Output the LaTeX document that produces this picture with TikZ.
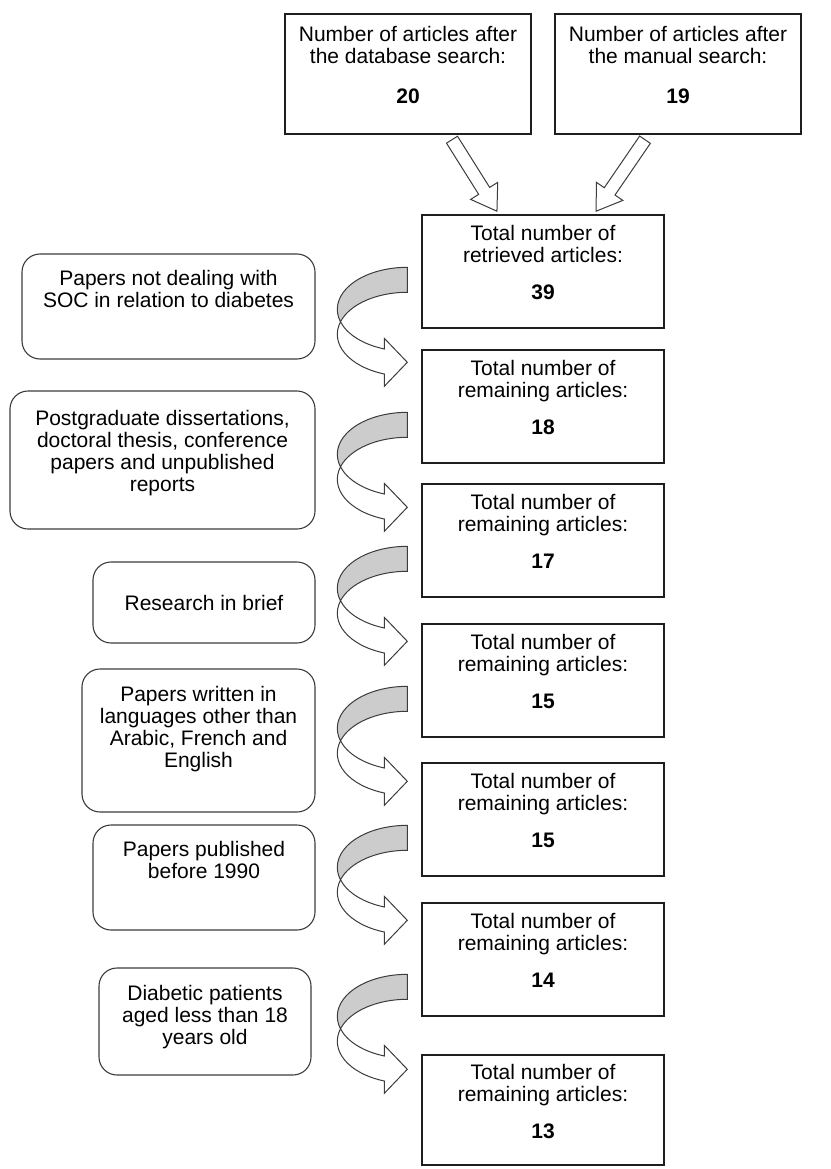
\documentclass[tikz,border=0pt]{standalone}
\usepackage{fontspec}
\setmainfont{Liberation Sans}
\usepackage{tikz}
\usetikzlibrary{calc}
\definecolor{boxline}{RGB}{30,30,30}
\definecolor{softline}{RGB}{60,60,60}
\definecolor{bandgray}{RGB}{204,204,204}

% extra depth below the last line, pushes the text up in its box
\newcommand{\pad}[1]{\rule[-#1]{0pt}{#1}}

% hollow block arrow from #1 to #2
\newcommand{\fatarrow}[2]{%
  \draw[blockline] let \p1=(#1), \p2=(#2), \n1={atan2(\y2-\y1,\x2-\x1)}, \n2={veclen(\x2-\x1,\y2-\y1)} in
    [shift={(\p1)}, rotate=\n1] (0,-6.5) -- ({\n2-24},-6.5) -- ({\n2-24},-16) -- (\n2,0)
    -- ({\n2-24},16) -- ({\n2-24},6.5) -- (0,6.5) -- cycle;}

\tikzset{
  bendarrow/.pic={
    % back of the band
    \draw[blockline, fill=bandgray] (0,0) arc[start angle=90, end angle=197.3, x radius=70, y radius=42]
      arc[start angle=162.7, end angle=90, x radius=70, y radius=42] -- cycle;
    % front of the band with head
    \draw[blockline] (-66.8,-54.5) arc[start angle=197.3, end angle=250.8, x radius=70, y radius=42]
      -- (-23,-71) -- (0,-95) -- (-23,-119) -- (-23,-106.7)
      arc[start angle=250.8, end angle=162.7, x radius=70, y radius=42] -- cycle;
  }
}

\begin{document}
\begin{tikzpicture}[x=1pt, y=1pt,
    countbox/.style={rectangle, draw=boxline, line width=1.4pt, fill=white, align=center, minimum width=242pt, minimum height=113pt, inner sep=0pt, font=\fontsize{21}{22}\selectfont},
    topbox/.style={countbox, minimum width=246pt, minimum height=120pt},
    excludebox/.style={rectangle, rounded corners=18pt, draw=softline, line width=1.1pt, fill=white, align=center, inner sep=0pt, font=\fontsize{21}{22}\selectfont},
    blockline/.style={draw=softline, line width=1pt, fill=white, line join=miter}
]
    \useasboundingbox (0,0) rectangle (830,-1169);

    \node[topbox] (dbase) at (408,-74) {Number of articles after\\the database search:\\[18pt]\textbf{20}\pad{18pt}};
    \node[topbox] (manual) at (678,-74) {Number of articles after\\the manual search:\\[18pt]\textbf{19}\pad{18pt}};

    \node[countbox] (r1) at (543,-271.5) {Total number of\\retrieved articles:\\[15pt]\textbf{39}\pad{18pt}};
    \node[countbox] (r2) at (543,-406.5) {Total number of\\remaining articles:\\[15pt]\textbf{18}\pad{18pt}};
    \node[countbox] (r3) at (543,-540.5) {Total number of\\remaining articles:\\[15pt]\textbf{17}\pad{18pt}};
    \node[countbox] (r4) at (543,-680.5) {Total number of\\remaining articles:\\[15pt]\textbf{15}\pad{18pt}};
    \node[countbox] (r5) at (543,-819.5) {Total number of\\remaining articles:\\[15pt]\textbf{15}\pad{18pt}};
    \node[countbox] (r6) at (543,-959.5) {Total number of\\remaining articles:\\[15pt]\textbf{14}\pad{18pt}};
    \node[countbox, minimum height=110pt] (r7) at (543,-1110) {Total number of\\remaining articles:\\[15pt]\textbf{13}\pad{18pt}};

    \node[excludebox, minimum width=293pt, minimum height=105pt] (x1) at (168.5,-306.5) {Papers not dealing with\\SOC in relation to diabetes\pad{35pt}};
    \node[excludebox, minimum width=305pt, minimum height=138pt] (x2) at (162.5,-460) {Postgraduate dissertations,\\doctoral thesis, conference\\papers and unpublished\\reports\pad{19pt}};
    \node[excludebox, minimum width=222pt, minimum height=81pt] (x3) at (204,-602.5) {Research in brief};
    \node[excludebox, minimum width=233pt, minimum height=143pt] (x4) at (198.5,-740.5) {Papers written in\\languages other than\\Arabic, French and\\English\pad{28pt}};
    \node[excludebox, minimum width=222pt, minimum height=105pt] (x5) at (204,-877.5) {Papers published\\before 1990\pad{35pt}};
    \node[excludebox, minimum width=212pt, minimum height=107pt] (x6) at (205,-1021.5) {Diabetic patients\\aged less than 18\\years old\pad{14pt}};

    % merging arrows
    \coordinate (a1s) at ($(dbase.south)+(44,-5)$);
    \coordinate (a1e) at ($(r1.north)+(-46,3)$);
    \coordinate (a2s) at ($(manual.south)+(-33,-5)$);
    \coordinate (a2e) at ($(r1.north)+(53,3)$);
    \fatarrow{a1s}{a1e}
    \fatarrow{a2s}{a2e}

    % exclusion steps
    \pic at ($(r1.north west)+(-14,-53)$) {bendarrow};
    \pic at ($(r2.north west)+(-14,-63)$) {bendarrow};
    \pic at ($(r3.north west)+(-14,-63)$) {bendarrow};
    \pic at ($(r4.north west)+(-14,-63)$) {bendarrow};
    \pic at ($(r5.north west)+(-14,-63)$) {bendarrow};
    \pic at ($(r6.north west)+(-14,-72)$) {bendarrow};

\end{tikzpicture}
\end{document}
